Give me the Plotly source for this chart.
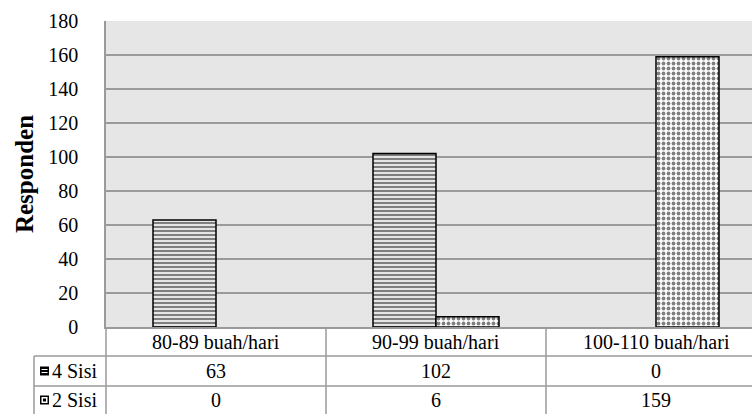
import plotly.graph_objects as go

# Data
categories = ["80-89 buah/hari", "90-99 buah/hari", "100-110 buah/hari"]
series_names = ["4 Sisi", "2 Sisi"]
values_4sisi = [63, 102, 0]
values_2sisi = [0, 6, 159]
y_ticks = [0, 20, 40, 60, 80, 100, 120, 140, 160, 180]

W, H = 752, 414
L, T, B = 106, 21, 87           # plot margins (px)
PLOT_W = W - L
PLOT_H = H - T - B
CAT_W = 220                      # px per category column
FONT = "'Liberation Serif', Tinos, 'DejaVu Serif', serif"
GRID = "#9a9a9a"


def px_x(px):
    return (px - L) / PLOT_W


def px_y(py):
    return (H - B - py) / PLOT_H


def outline(vals):
    # zero-height bars get no outline
    return [1.5 if v > 0 else 0 for v in vals]


fig = go.Figure()
fig.add_trace(go.Bar(
    x=list(range(len(categories))), y=values_4sisi, name=series_names[0],
    marker=dict(color="white", line=dict(color="black", width=outline(values_4sisi)),
                pattern=dict(shape="-", fgcolor="black", bgcolor="white",
                             size=4, solidity=0.6)),
))
fig.add_trace(go.Bar(
    x=list(range(len(categories))), y=values_2sisi, name=series_names[1],
    marker=dict(color="white", line=dict(color="black", width=outline(values_2sisi)),
                pattern=dict(shape=".", fgcolor="black", bgcolor="white",
                             size=5, solidity=0.45)),
))

x_end = -0.5 + PLOT_W / CAT_W

shapes = []
annotations = []

# Data table grid
table_right = px_x(L + CAT_W * len(categories))
for py in (356, 386):
    shapes.append(dict(type="line", xref="paper", yref="paper",
                       x0=px_x(34), x1=table_right, y0=px_y(py), y1=px_y(py),
                       line=dict(color=GRID, width=1.5)))
for k in range(1, len(categories)):
    xp = px_x(L + CAT_W * k)
    shapes.append(dict(type="line", xref="paper", yref="paper",
                       x0=xp, x1=xp, y0=px_y(H - B), y1=px_y(H),
                       line=dict(color=GRID, width=1.5)))
shapes.append(dict(type="line", xref="paper", yref="paper",
                   x0=0, x1=0, y0=px_y(H - B), y1=px_y(H),
                   line=dict(color=GRID, width=1.5)))
shapes.append(dict(type="line", xref="paper", yref="paper",
                   x0=px_x(34), x1=px_x(34), y0=px_y(356), y1=px_y(H),
                   line=dict(color=GRID, width=1.5)))

row_centers = [341.5, 371, 400]
cell_font = dict(family=FONT, size=20, color="black")
for i, cat in enumerate(categories):
    annotations.append(dict(x=i, xref="x", y=px_y(row_centers[0]), yref="paper",
                            text=cat, showarrow=False, xanchor="center",
                            yanchor="middle", font=cell_font))
for r, vals in enumerate([values_4sisi, values_2sisi]):
    for i, v in enumerate(vals):
        annotations.append(dict(x=i, xref="x", y=px_y(row_centers[r + 1]), yref="paper",
                                text=str(v), showarrow=False, xanchor="center",
                                yanchor="middle", font=cell_font))

# Legend keys inside the table
for r, name in enumerate(series_names):
    cy = row_centers[r + 1]
    kx0, kx1 = 40, 49
    ky0, ky1 = cy - 4.5, cy + 4.5
    shapes.append(dict(type="rect", xref="paper", yref="paper",
                       x0=px_x(kx0), x1=px_x(kx1), y0=px_y(ky1), y1=px_y(ky0),
                       fillcolor="black", line=dict(width=0)))
    if r == 0:
        for dy in (-1.5, 1.5):
            shapes.append(dict(type="line", xref="paper", yref="paper",
                               x0=px_x(kx0 + 1.5), x1=px_x(kx1 - 1.5),
                               y0=px_y(cy + dy), y1=px_y(cy + dy),
                               line=dict(color="white", width=1)))
    else:
        shapes.append(dict(type="rect", xref="paper", yref="paper",
                           x0=px_x(kx0 + 1.5), x1=px_x(kx1 - 1.5),
                           y0=px_y(ky1 - 1.5), y1=px_y(ky0 + 1.5),
                           fillcolor="white", line=dict(width=0)))
        shapes.append(dict(type="rect", xref="paper", yref="paper",
                           x0=px_x(kx0 + 3), x1=px_x(kx1 - 3),
                           y0=px_y(ky1 - 3), y1=px_y(ky0 + 3),
                           fillcolor="black", line=dict(width=0)))
    annotations.append(dict(x=px_x(50), xref="paper", y=px_y(cy), yref="paper",
                            text=name, showarrow=False, xanchor="left", yanchor="middle",
                            font=cell_font))

fig.update_layout(
    width=W, height=H,
    margin=dict(l=L, r=0, t=T, b=B, pad=0),
    paper_bgcolor="white",
    plot_bgcolor="#e6e6e6",
    barmode="group",
    bargap=1 - 126 / CAT_W,
    bargroupgap=0,
    showlegend=False,
    font=dict(family=FONT, size=20, color="black"),
    xaxis=dict(range=[-0.5, x_end], showticklabels=False, showgrid=False,
               zeroline=False, showline=True, linecolor=GRID, linewidth=1.5,
               ticks="", fixedrange=True),
    yaxis=dict(range=[0, 180], tickvals=y_ticks, showgrid=True, gridcolor=GRID,
               gridwidth=1.5, zeroline=False, showline=True, linecolor=GRID,
               linewidth=1.5, ticks="outside", ticklen=22, tickcolor="rgba(0,0,0,0)",
               tickfont=dict(family=FONT, size=20, color="black"),
               title=dict(text="<b>Responden</b>", standoff=8,
                          font=dict(family=FONT, size=25, color="black"))),
    shapes=shapes,
    annotations=annotations,
)

fig.write_html("out.html")
